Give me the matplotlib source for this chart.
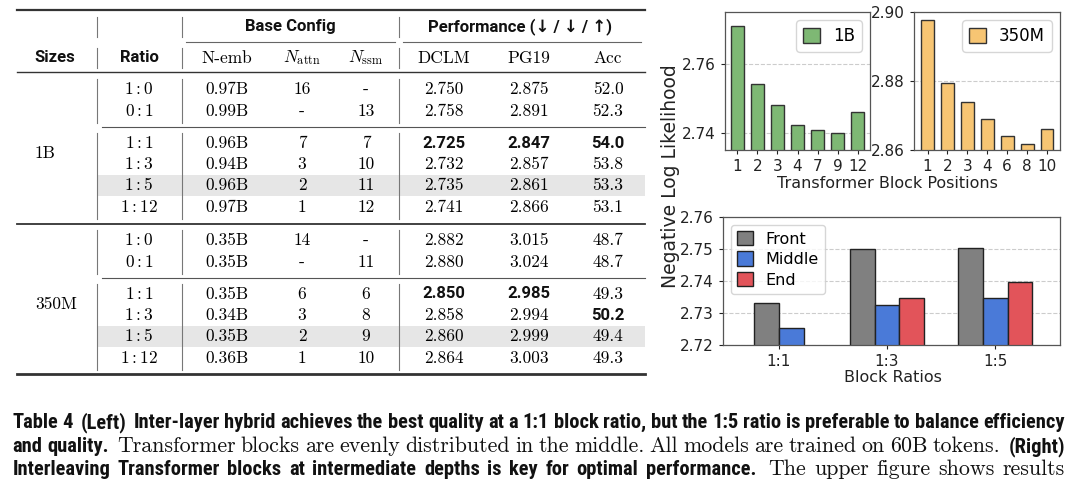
import numpy as np
import matplotlib
matplotlib.use('Agg')
import matplotlib.pyplot as plt
from matplotlib import font_manager
from matplotlib.patches import Rectangle
from matplotlib.ticker import MultipleLocator, FormatStrFormatter

plt.rcParams['mathtext.fontset'] = 'cm'

# ---------------- data ----------------
size_labels = ['1B', '350M']
ratio_labels = ['1:0', '0:1', '1:1', '1:3', '1:5', '1:12']
highlight_ratio = '1:5'

nemb_1b = ['0.97B', '0.99B', '0.96B', '0.94B', '0.96B', '0.97B']
nattn_1b = ['16', '-', '7', '3', '2', '1']
nssm_1b = ['-', '13', '7', '10', '11', '12']
dclm_1b = [2.750, 2.758, 2.725, 2.732, 2.735, 2.741]
pg19_1b = [2.875, 2.891, 2.847, 2.857, 2.861, 2.866]
acc_1b = [52.0, 52.3, 54.0, 53.8, 53.3, 53.1]

nemb_350m = ['0.35B', '0.35B', '0.35B', '0.34B', '0.35B', '0.36B']
nattn_350m = ['14', '-', '6', '3', '2', '1']
nssm_350m = ['-', '11', '6', '8', '9', '10']
dclm_350m = [2.882, 2.880, 2.850, 2.858, 2.860, 2.864]
pg19_350m = [3.015, 3.024, 2.985, 2.994, 2.999, 3.003]
acc_350m = [48.7, 48.7, 49.3, 50.2, 49.4, 49.3]

block_pos_1b = ['1', '2', '3', '4', '7', '9', '12']
nll_1b = [2.771, 2.754, 2.748, 2.7423, 2.7407, 2.7399, 2.746]
block_pos_350m = ['1', '2', '3', '4', '6', '8', '10']
nll_350m = [2.8978, 2.8794, 2.8739, 2.869, 2.864, 2.8617, 2.866]

block_ratios = ['1:1', '1:3', '1:5']
nll_front = [2.733, 2.7499, 2.7502]
nll_middle = [2.7252, 2.7325, 2.7348]
nll_end = [np.nan, 2.7348, 2.7397]
placement_names = ['Front', 'Middle', 'End']

caption_lines = [
    [("Table 4  (Left)  Inter-layer hybrid achieves the best quality at a 1:1 block ratio, but the 1:5 ratio is preferable to balance efficiency", 'b')],
    [("and quality.  ", 'b'),
     ("Transformer blocks are evenly distributed in the middle. All models are trained on 60B tokens.  ", 'r'),
     ("(Right)", 'b')],
    [("Interleaving Transformer blocks at intermediate depths is key for optimal performance.  ", 'b'),
     ("The upper figure shows results", 'r')],
]

# ---------------- figure ----------------
W, H = 1080, 488
fig = plt.figure(figsize=(W / 100, H / 100), dpi=100)

names = {f.name for f in font_manager.fontManager.ttflist}
sans_bold = 'Roboto' if 'Roboto' in names else 'DejaVu Sans'
cap_bold = next((n for n in ['Roboto Condensed', 'Liberation Sans Narrow', 'Roboto'] if n in names), 'DejaVu Sans')
serif = 'cmr10'

# ---------------- table (pixel-coordinate overlay) ----------------
axt = fig.add_axes([0, 0, 1, 1], zorder=0)
axt.set_xlim(0, W)
axt.set_ylim(H, 0)
axt.axis('off')

X0, X1 = 17, 645
col_x = {'ratio': 139, 'nemb': 227, 'nattn': 302, 'nssm': 366,
         'dclm': 444, 'pg19': 529, 'acc': 608}
vlines_x = [97, 182, 399]
group_y0 = [89, 240]
row_off = [0, 22, 54, 75, 96, 118]

rule_c = '#333333'
axt.plot([X0, X1], [10, 10], color=rule_c, lw=1.6)
axt.plot([186, 395], [41.7, 41.7], color='#666666', lw=0.8)
axt.plot([403, 641], [41.7, 41.7], color='#666666', lw=0.8)
axt.plot([X0, X1], [72.3, 72.3], color=rule_c, lw=1.0)
axt.plot([X0, X1], [224, 224], color=rule_c, lw=1.3)
axt.plot([X0, X1], [374, 374], color=rule_c, lw=2.0)
for g in range(2):
    yp = group_y0[g] + 37.7
    axt.plot([101.7, X1], [yp, yp], color='#555555', lw=0.8)

vsegs = [(16.7, 36.7), (48.3, 68.3), (79, 123.3), (132.7, 219), (229.5, 274), (283.5, 370)]
for vx in vlines_x:
    for a, b in vsegs:
        axt.plot([vx, vx], [a, b], color='#777777', lw=0.8)

tfs = 12.5
bfs = 12
axt.text(290, 27, 'Base Config', ha='center', va='center', fontsize=bfs,
         family=sans_bold, weight='bold', color='#111111')
axt.text(519.7, 27, 'Performance (↓ / ↓ / ↑)', ha='center', va='center', fontsize=bfs,
         family=[sans_bold, 'DejaVu Sans'], weight='bold', color='#111111')
hy = 58
axt.text(55, hy, 'Sizes', ha='center', va='center', fontsize=bfs, family=sans_bold, weight='bold', color='#111111')
axt.text(col_x['ratio'], hy, 'Ratio', ha='center', va='center', fontsize=bfs, family=sans_bold, weight='bold', color='#111111')
axt.text(col_x['nemb'], hy, 'N-emb', ha='center', va='center', fontsize=tfs, family=serif)
axt.text(col_x['nattn'], hy, r'$N_{\mathrm{attn}}$', ha='center', va='center', fontsize=tfs)
axt.text(col_x['nssm'], hy, r'$N_{\mathrm{ssm}}$', ha='center', va='center', fontsize=tfs)
axt.text(col_x['dclm'], hy, 'DCLM', ha='center', va='center', fontsize=tfs, family=serif)
axt.text(col_x['pg19'], hy, 'PG19', ha='center', va='center', fontsize=tfs, family=serif)
axt.text(col_x['acc'], hy, 'Acc', ha='center', va='center', fontsize=tfs, family=serif)

groups = [
    (nemb_1b, nattn_1b, nssm_1b, dclm_1b, pg19_1b, acc_1b),
    (nemb_350m, nattn_350m, nssm_350m, dclm_350m, pg19_350m, acc_350m),
]
for g, (nemb, nattn, nssm, dclm, pg19, acc) in enumerate(groups):
    y0 = group_y0[g]
    axt.text(35, y0 + 64, size_labels[g], ha='left', va='center', fontsize=tfs, family=serif)
    best_d, best_p, best_a = min(dclm), min(pg19), max(acc)
    for i, r in enumerate(ratio_labels):
        y = y0 + row_off[i]
        if r == highlight_ratio:
            axt.add_patch(Rectangle((98, y - 10.5), X1 - 98, 21.5, color='#e6e6e6', zorder=0, lw=0))
        a, b = r.split(':')
        axt.text(col_x['ratio'], y, r'$%s:%s$' % (a, b), ha='center', va='center', fontsize=tfs)
        axt.text(col_x['nemb'], y, nemb[i], ha='center', va='center', fontsize=tfs, family=serif)
        axt.text(col_x['nattn'], y, nattn[i], ha='center', va='center', fontsize=tfs, family=serif)
        axt.text(col_x['nssm'], y, nssm[i], ha='center', va='center', fontsize=tfs, family=serif)
        for key, vals, best, fmt in [('dclm', dclm, best_d, '%.3f'), ('pg19', pg19, best_p, '%.3f'),
                                     ('acc', acc, best_a, '%.1f')]:
            s = fmt % vals[i]
            if vals[i] == best:
                axt.text(col_x[key], y, s, ha='center', va='center', fontsize=bfs,
                         family=sans_bold, weight='bold', color='#111111')
            else:
                axt.text(col_x[key], y, s, ha='center', va='center', fontsize=tfs, family=serif)

# ---------------- bar charts ----------------
spine_c = '#555555'
grid_kw = dict(linestyle='--', color='#cccccc', linewidth=0.8)


def style_ax(ax):
    for s in ax.spines.values():
        s.set_color(spine_c)
        s.set_linewidth(0.9)
    ax.tick_params(labelsize=11, colors='#222222', length=3, width=0.8)
    ax.set_axisbelow(True)
    ax.yaxis.grid(True, **grid_kw)


ax1 = fig.add_axes([725 / W, 1 - 150 / H, 145 / W, 138 / H])
x1 = np.arange(len(block_pos_1b))
ax1.bar(x1, nll_1b, width=0.68, color='#7eb874', edgecolor='#333333', linewidth=1.0, label='1B')
ax1.set_ylim(2.735, 2.775)
ax1.set_xlim(-0.62, len(x1) - 1 + 0.62)
ax1.yaxis.set_major_locator(MultipleLocator(0.02))
ax1.yaxis.set_major_formatter(FormatStrFormatter('%.2f'))
ax1.set_xticks(x1, block_pos_1b)
style_ax(ax1)
ax1.legend(loc='upper right', fontsize=12, handlelength=1.0, handleheight=1.0, edgecolor='#cccccc')

ax2 = fig.add_axes([914 / W, 1 - 150 / H, 146 / W, 138 / H])
x2 = np.arange(len(block_pos_350m))
ax2.bar(x2, nll_350m, width=0.64, color='#f7c573', edgecolor='#333333', linewidth=1.0, label='350M')
ax2.set_ylim(2.86, 2.90)
ax2.set_xlim(-0.68, len(x2) - 1 + 0.65)
ax2.yaxis.set_major_locator(MultipleLocator(0.02))
ax2.yaxis.set_major_formatter(FormatStrFormatter('%.2f'))
ax2.set_xticks(x2, block_pos_350m)
style_ax(ax2)
ax2.legend(loc='upper right', fontsize=12, handlelength=1.0, handleheight=1.0, edgecolor='#cccccc')

fig.text(887 / W, 1 - 183 / H, 'Transformer Block Positions', ha='center', va='center',
         fontsize=11.5, color='#222222')

ax3 = fig.add_axes([722.7 / W, 1 - 345 / H, 337.3 / W, 128.3 / H])
series = [nll_front, nll_middle, nll_end]
colors = ['#808080', '#4a7ad8', '#e2545a']
bw = 0.23
for gi in range(len(block_ratios)):
    avail = [k for k in range(3) if not np.isnan(series[k][gi])]
    n = len(avail)
    for j, k in enumerate(avail):
        xpos = gi + (j - (n - 1) / 2) * bw
        ax3.bar(xpos, series[k][gi], width=bw, color=colors[k], edgecolor='#222222', linewidth=1.0,
                label=placement_names[k] if gi == 1 else None)
ax3.set_ylim(2.72, 2.76)
ax3.set_xlim(-0.52, 2.60)
ax3.yaxis.set_major_locator(MultipleLocator(0.01))
ax3.yaxis.set_major_formatter(FormatStrFormatter('%.2f'))
ax3.set_xticks(range(len(block_ratios)), block_ratios)
style_ax(ax3)
ax3.legend(loc='upper left', fontsize=11.5, handlelength=1.0, handleheight=1.0, labelspacing=0.3,
           edgecolor='#cccccc')
fig.text(892.7 / W, 1 - 378 / H, 'Block Ratios', ha='center', va='center', fontsize=11.5, color='#222222')

fig.text(670 / W, 1 - 176.5 / H, 'Negative Log Likelihood', rotation=90, ha='center', va='center',
         fontsize=13.5, color='#222222')

# ---------------- caption (justified lines) ----------------
renderer = fig.canvas.get_renderer()
CX0, CX1 = 12.3, 1065
baselines = [428, 452, 475]


def font_kw(style, size):
    if style == 'b':
        return dict(family=cap_bold, weight='bold', fontsize=size)
    return dict(family=serif, fontsize=size)


def words_of(runs):
    items, pending = [], 0
    for text, st in runs:
        parts = text.split(' ')
        for i, p in enumerate(parts):
            if i > 0:
                pending += 1
            if p:
                g = pending if items else 0
                items.append([p, st, 1.0 if g == 1 else 1.6 * (g > 0)])
                pending = 0
    return items


def measure(word, style, size):
    t = fig.text(0, 0, word, **font_kw(style, size))
    w = t.get_window_extent(renderer).width
    t.remove()
    return w


SP = 0.25  # natural space in em
PX = 100 / 72
target = CX1 - CX0

A = []
for runs in caption_lines:
    items = words_of(runs)
    row = [0.0, 0.0]
    for w, st, g in items:
        v = measure(w, st, 10.0) + g * SP * 10.0 * PX
        row[0 if st == 'b' else 1] += v / 10.0
    A.append(row)
A = np.array(A)
sol, *_ = np.linalg.lstsq(A, np.full(len(caption_lines), target), rcond=None)
sizes = {'b': float(sol[0]), 'r': float(sol[1])}

for li, runs in enumerate(caption_lines):
    items = words_of(runs)
    widths = [measure(w, st, sizes[st]) for w, st, g in items]
    base_gaps = [g * SP * sizes[st] * PX for w, st, g in items]
    nat = sum(widths) + sum(base_gaps)
    wsum = sum(g for _, _, g in items) or 1
    extra = (target - nat) / wsum
    x = CX0
    for (w, st, g), wd, bg in zip(items, widths, base_gaps):
        x += bg + g * extra
        fig.text(x / W, 1 - baselines[li] / H, w, ha='left', va='baseline', color='#111111',
                 **font_kw(st, sizes[st]))
        x += wd

fig.savefig('out.png', dpi=100)
